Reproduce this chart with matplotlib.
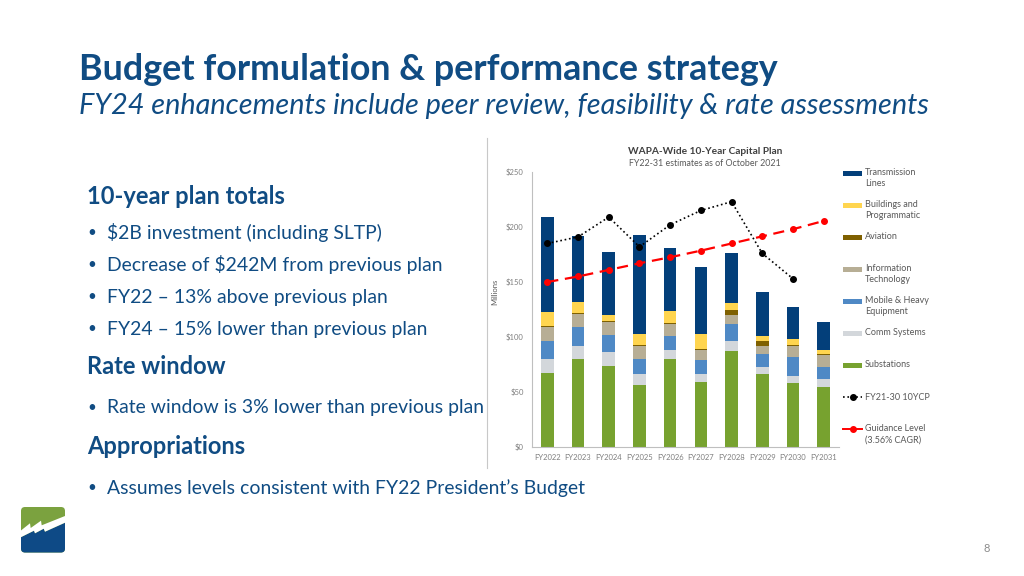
import numpy as np
import matplotlib
matplotlib.use("Agg")
import matplotlib.pyplot as plt
from matplotlib.patches import FancyBboxPatch, Polygon, Rectangle

# --- data ($M) ---------------------------------------------------------------
years = ["FY2022", "FY2023", "FY2024", "FY2025", "FY2026",
         "FY2027", "FY2028", "FY2029", "FY2030", "FY2031"]
substations = [67, 80, 74, 56, 80, 59, 87, 66, 58.5, 55]
comm = [13, 12, 12.5, 10, 8, 7.5, 9.5, 7, 6.5, 6.5]
mobile = [16, 17, 15, 14, 13, 13, 15.5, 12, 16.5, 11]
info_tech = [13, 12, 12, 11.5, 11, 9, 8, 7, 10, 11]
aviation = [1, 1, 1, 1, 1, 1, 4.5, 4.5, 1, 1]
buildings = [13, 10, 5.5, 10, 11, 13.5, 6.5, 4.5, 6, 3.5]
transmission = [86, 60, 57, 90, 57, 60.5, 45.5, 40, 29, 26]
prev_plan = [185, 191, 209, 182, 202, 215, 223, 176, 153, np.nan]
guidance = [150, 155, 161, 167, 172.5, 178.5, 185, 191.5, 198, 205.5]

series = [
    ("Substations", substations, "#77A22F"),
    ("Comm Systems", comm, "#D3D7DB"),
    ("Mobile & Heavy\nEquipment", mobile, "#4F89C5"),
    ("Information\nTechnology", info_tech, "#B7AE95"),
    ("Aviation", aviation, "#7F6000"),
    ("Buildings and\nProgrammatic", buildings, "#FFD54F"),
    ("Transmission\nLines", transmission, "#033F7A"),
]

BLUE = "#104C83"
GREY = "#7F7F7F"
FONT = ["Lato", "DejaVu Sans"]
plt.rcParams["font.family"] = FONT

fig = plt.figure(figsize=(10.24, 5.76), dpi=100)
fig.patch.set_facecolor("white")

# slide canvas in pixel coordinates
bg = fig.add_axes([0, 0, 1, 1])
bg.set_xlim(0, 1024); bg.set_ylim(576, 0); bg.axis("off")

bg.text(79, 70, "Budget formulation & performance strategy", fontsize=25.8,
        fontweight="bold", color=BLUE, ha="left", va="center")
bg.text(79, 106, "FY24 enhancements include peer review, feasibility & rate assessments",
        fontsize=20.8, style="italic", color=BLUE, ha="left", va="center")

for y, txt in [(197, "10-year plan totals"), (367, "Rate window"), (447, "Appropriations")]:
    bg.text(87, y, txt, fontsize=17, fontweight="bold", color=BLUE, ha="left", va="center")
for y, txt in [(233, "$2B investment (including SLTP)"),
               (265, "Decrease of $242M from previous plan"),
               (297, "FY22 \u2013 13% above previous plan"),
               (329, "FY24 \u2013 15% lower than previous plan"),
               (408, "Rate window is 3% lower than previous plan"),
               (488, "Assumes levels consistent with FY22 President\u2019s Budget")]:
    bg.text(87, y, "\u2022", fontsize=11, color=BLUE, ha="left", va="center")
    bg.text(107, y, txt, fontsize=13.95, color=BLUE, ha="left", va="center")

# picture frame line left of the chart
bg.plot([487, 487], [138, 468], color="#C8C8C8", lw=0.8)

# chart title / axis label
bg.text(705, 151, "WAPA-Wide 10-Year Capital Plan", fontsize=7.3, fontweight="bold",
        color="#404040", ha="center", va="center")
bg.text(705, 164, "FY22-31 estimates as of October 2021", fontsize=6.4,
        color="#595959", ha="center", va="center")
bg.text(495, 292, "Millions", fontsize=5.5, color="#595959", rotation=90,
        ha="center", va="center")

# legend, drawn by hand to keep the slide's even spacing
legend_rows = [s for s in reversed(series)]
for i, (name, _, col) in enumerate(legend_rows):
    y = 173 + 32 * i
    bg.add_patch(Rectangle((843, y - 2.5), 19, 5, fc=col, ec="none"))
    bg.text(865, y - 5, name, fontsize=6.5, color="#595959", ha="left", va="top",
            linespacing=1.35)
y = 173 + 32 * 7
bg.plot([843, 862], [y, y], color="black", ls=":", lw=1.2)
bg.plot([852.5], [y], "o", color="black", ms=4)
bg.text(865, y, "FY21-30 10YCP", fontsize=6.5, color="#595959", ha="left", va="center")
y += 32
bg.plot([843, 862], [y, y], color="red", lw=1.4)
bg.plot([852.5], [y], "o", color="red", ms=4)
bg.text(865, y - 5, "Guidance Level\n(3.56% CAGR)", fontsize=6.5, color="#595959",
        ha="left", va="top", linespacing=1.35)

# logo
frame = FancyBboxPatch((21, 507), 44, 45.5, boxstyle="round,pad=0,rounding_size=4",
                       fc="#7BA23F", ec="none")
bg.add_patch(frame)
upper = [(20.7, 530.7), (30, 523.3), (30.7, 528), (41, 520.7), (41.7, 525.3), (65, 516)]
lower = [(65, 522.7), (45, 531.7), (43.7, 528.7), (35, 533.3), (34, 530.7), (20.7, 537.3)]
bolt = Polygon(upper + lower, closed=True, fc="white", ec="none")
navy = Polygon(lower + [(20.7, 553), (65, 553)], closed=True, fc="#0E4A86", ec="none")
for p in (navy, bolt):
    bg.add_patch(p)
    p.set_clip_path(frame)

bg.text(987, 549, "8", fontsize=8, color="#8C8C8C", ha="center", va="center")

# --- the chart -------------------------------------------------------------
ax = fig.add_axes([532 / 1024, (576 - 447) / 576, 307 / 1024, 275 / 576])
ax.set_facecolor("none")
x = np.arange(len(years))
bottom = np.zeros(len(years))
for name, vals, col in series:
    ax.bar(x, vals, width=0.41, bottom=bottom, color=col, zorder=2)
    bottom += np.array(vals)

ax.plot(x, prev_plan, color="black", ls=":", lw=1.2, marker="o", ms=4, zorder=3)
ax.plot(x, guidance, color="red", ls=(0, (5, 3)), lw=1.6, marker="o", ms=4, zorder=3)

ax.set_xlim(-0.5, len(years) - 0.5)
ax.set_ylim(0, 250)
ax.set_yticks(range(0, 251, 50))
ax.set_yticklabels([f"${v}" for v in range(0, 251, 50)])
ax.set_xticks(x)
ax.set_xticklabels(years)
ax.tick_params(length=0, labelsize=5.5, labelcolor=GREY)
ax.tick_params(axis="y", pad=6)
ax.tick_params(axis="x", pad=5)
for s in ("top", "right"):
    ax.spines[s].set_visible(False)
for s in ("left", "bottom"):
    ax.spines[s].set_color("#BFBFBF")
    ax.spines[s].set_linewidth(0.8)

fig.savefig("out.png", dpi=100)
